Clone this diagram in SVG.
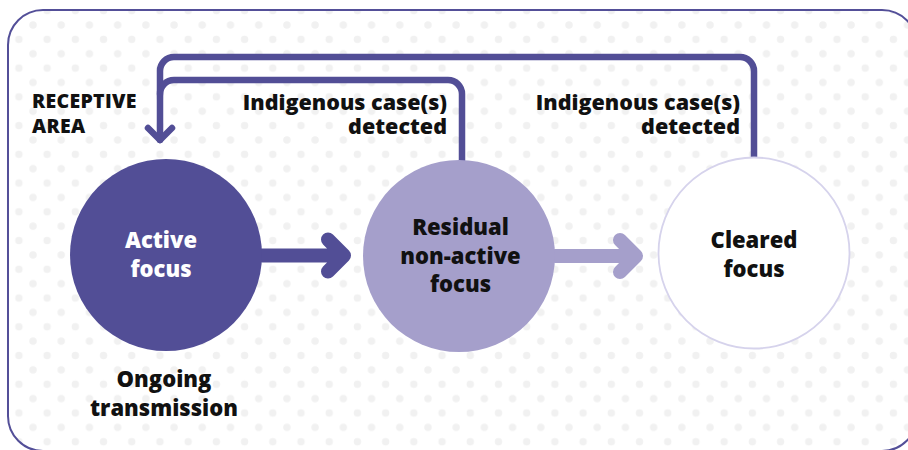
<svg xmlns="http://www.w3.org/2000/svg" width="908" height="450" viewBox="0 0 908 450">
<defs>
<pattern id="dots" patternUnits="userSpaceOnUse" x="4.8" y="-3.74" width="28.21" height="28.74">
<circle cx="0" cy="0" r="3.7" fill="#f1f1f1"/>
<circle cx="28.21" cy="0" r="3.7" fill="#f1f1f1"/>
<circle cx="0" cy="28.74" r="3.7" fill="#f1f1f1"/>
<circle cx="28.21" cy="28.74" r="3.7" fill="#f1f1f1"/>
<circle cx="14.105" cy="14.37" r="3.7" fill="#f1f1f1"/>
</pattern>
<style>
.t{font-family:"Open Sans","DejaVu Sans",sans-serif;font-weight:800;fill:#111;}
.lab{font-size:21.5px;}
.cap{font-size:19.5px;letter-spacing:0.3px;}
.node{font-size:22px;text-anchor:middle;}
.fb{fill:none;stroke:#524e96;stroke-width:6.5;stroke-linecap:round;stroke-linejoin:round;}
.big{fill:none;stroke-width:14;stroke-linecap:round;stroke-linejoin:round;}
</style>
</defs>
<rect x="0" y="0" width="908" height="450" fill="#ffffff"/>
<rect x="8" y="10" width="909" height="441" rx="35" fill="url(#dots)" stroke="#534f98" stroke-width="2"/>

<g id="labels">
<text class="t cap" x="32" y="108">RECEPTIVE</text>
<text class="t cap" x="32" y="133">AREA</text>
<text class="t lab" x="447" y="109.5" text-anchor="end">Indigenous case(s)</text>
<text class="t lab" x="447" y="133.5" text-anchor="end">detected</text>
<text class="t lab" x="740" y="109.5" text-anchor="end">Indigenous case(s)</text>
<text class="t lab" x="740" y="133.5" text-anchor="end">detected</text>
<text class="t node" x="164" y="387">Ongoing</text>
<text class="t node" x="164" y="416">transmission</text>
</g>

<g id="connectors">
<path class="fb" d="M754,160 V71 A14,14 0 0 0 740,57 H174 A14,14 0 0 0 160,71 V140"/>
<path class="fb" d="M462,162 V94 A14,14 0 0 0 448,80 H174 A14,14 0 0 0 160,94"/>
<path class="fb" d="M148,128 L160,140 L172,128"/>
<path class="big" stroke="#524e96" d="M262,255.5 H344 M328,239.5 L344,255.5 L328,271.5"/>
<path class="big" stroke="#a59fcb" d="M555,256 H636 M620,240 L636,256 L620,272"/>
</g>

<g id="node-active">
<circle cx="166" cy="255" r="96" fill="#524e96"/>
<text class="t node" x="161" y="248" style="fill:#ffffff">Active</text>
<text class="t node" x="161" y="277" style="fill:#ffffff">focus</text>
</g>

<g id="node-residual">
<circle cx="459" cy="256" r="96" fill="#a59fcb"/>
<text class="t node" x="460.5" y="235">Residual</text>
<text class="t node" x="460.5" y="263.5">non-active</text>
<text class="t node" x="460.5" y="292">focus</text>
</g>

<g id="node-cleared">
<circle cx="754" cy="253" r="95.5" fill="#ffffff" stroke="#d6d3ec" stroke-width="1.8"/>
<text class="t node" x="754" y="248">Cleared</text>
<text class="t node" x="754" y="277">focus</text>
</g>
</svg>
